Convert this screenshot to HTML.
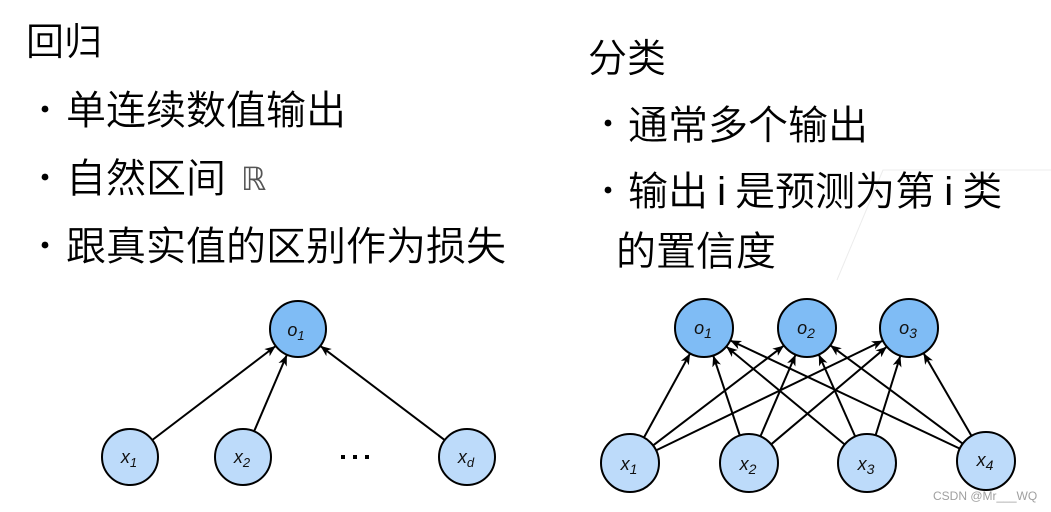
<!DOCTYPE html>
<html><head><meta charset="utf-8"><style>
html,body{margin:0;padding:0;background:#fff;}
body{width:1051px;height:512px;overflow:hidden;}
svg{display:block;}
.cjk{font-family:"Liberation Sans","Noto Sans CJK SC",sans-serif;fill:#000;font-weight:350;}
.lbl{font-family:"Liberation Sans",sans-serif;font-style:italic;font-size:18px;fill:#111;}
</style></head><body>
<svg width="1051" height="512" viewBox="0 0 1051 512" xmlns="http://www.w3.org/2000/svg">
<defs>
<marker id="ah" markerUnits="userSpaceOnUse" markerWidth="12" markerHeight="10" refX="11" refY="4.5" orient="auto">
<path d="M0,0 L11,4.5 L0,9 L3,4.5 z" fill="#000"/>
</marker>
</defs>
<polyline points="837,280 883,170 1051,170" fill="none" stroke="#ececec" stroke-width="1"/>

<!-- Left text -->
<text class="cjk" x="26" y="55" font-size="38">回归</text>
<circle cx="45" cy="109" r="3.4" fill="#000"/>
<text class="cjk" x="66" y="124" font-size="40">单连续数值输出</text>
<circle cx="45" cy="177" r="3.4" fill="#000"/>
<text class="cjk" x="66" y="192" font-size="40">自然区间</text>
<text x="241" y="190" font-family="DejaVu Sans,sans-serif" font-size="32" fill="#555">ℝ</text>
<circle cx="45" cy="245" r="3.4" fill="#000"/>
<text class="cjk" x="66" y="260" font-size="40">跟真实值的区别作为损失</text>

<!-- Right text -->
<text class="cjk" x="588" y="72" font-size="39">分类</text>
<circle cx="608" cy="123" r="3.4" fill="#000"/>
<text class="cjk" x="628" y="139" font-size="40">通常多个输出</text>
<circle cx="608" cy="190" r="3.4" fill="#000"/>
<text class="cjk" x="628" y="205" font-size="40" word-spacing="-2" xml:space="preserve">输出 i 是预测为第 i 类</text>
<text class="cjk" x="616" y="265" font-size="40">的置信度</text>

<!-- Left diagram edges -->
<g stroke="#000" stroke-width="2" fill="none" marker-end="url(#ah)">
<line x1="152.3" y1="440" x2="275.7" y2="346"/>
<line x1="254.1" y1="431.3" x2="286.9" y2="354.7"/>
<line x1="444.7" y1="440.1" x2="320.3" y2="345.9"/>
</g>
<g stroke="#000" stroke-width="2">
<circle cx="298" cy="329" r="28" fill="#7FBCF5"/>
<circle cx="130" cy="457" r="28" fill="#BDDBFA"/>
<circle cx="243" cy="457" r="28" fill="#BDDBFA"/>
<circle cx="467" cy="457" r="28" fill="#BDDBFA"/>
</g>
<rect x="341" y="455" width="4" height="4" fill="#000"/>
<rect x="353" y="455" width="4" height="4" fill="#000"/>
<rect x="365" y="455" width="4" height="4" fill="#000"/>
<text class="lbl" x="296" y="336" text-anchor="middle">o<tspan font-size="13" dy="4">1</tspan></text>
<text class="lbl" x="129" y="463" text-anchor="middle">x<tspan font-size="13" dy="4">1</tspan></text>
<text class="lbl" x="242" y="463" text-anchor="middle">x<tspan font-size="13" dy="4">2</tspan></text>
<text class="lbl" x="466" y="463" text-anchor="middle">x<tspan font-size="13" dy="4">d</tspan></text>

<!-- Right diagram edges -->
<g stroke="#000" stroke-width="2" fill="none" marker-end="url(#ah)">
<line x1="643.9" y1="437.6" x2="690.1" y2="353.4"/>
<line x1="653.1" y1="445.4" x2="783.9" y2="345.6"/>
<line x1="656.1" y1="450.4" x2="882.9" y2="340.6"/>
<line x1="739.8" y1="435.5" x2="713.2" y2="355.5"/>
<line x1="760.4" y1="436.4" x2="795.6" y2="354.6"/>
<line x1="771.2" y1="444.3" x2="886.8" y2="346.7"/>
<line x1="844.7" y1="444.5" x2="726.3" y2="346.5"/>
<line x1="855.2" y1="436.5" x2="818.8" y2="354.5"/>
<line x1="875.6" y1="435.3" x2="900.4" y2="355.7"/>
<line x1="959.8" y1="448.6" x2="730.2" y2="340.4"/>
<line x1="962.7" y1="443.7" x2="830.3" y2="345.3"/>
<line x1="971.5" y1="435.9" x2="923.5" y2="353.1"/>
</g>
<g stroke="#000" stroke-width="2">
<circle cx="704" cy="328" r="29" fill="#7FBCF5"/>
<circle cx="807" cy="328" r="29" fill="#7FBCF5"/>
<circle cx="909" cy="328" r="29" fill="#7FBCF5"/>
<circle cx="630" cy="463" r="29" fill="#BDDBFA"/>
<circle cx="749" cy="463" r="29" fill="#BDDBFA"/>
<circle cx="867" cy="463" r="29" fill="#BDDBFA"/>
<circle cx="986" cy="461" r="29" fill="#BDDBFA"/>
</g>
<text class="lbl" x="703" y="334" text-anchor="middle" font-size="19">o<tspan font-size="14" dy="4">1</tspan></text>
<text class="lbl" x="806" y="334" text-anchor="middle" font-size="19">o<tspan font-size="14" dy="4">2</tspan></text>
<text class="lbl" x="908" y="334" text-anchor="middle" font-size="19">o<tspan font-size="14" dy="4">3</tspan></text>
<text class="lbl" x="629" y="470" text-anchor="middle" font-size="19">x<tspan font-size="14" dy="4">1</tspan></text>
<text class="lbl" x="748" y="470" text-anchor="middle" font-size="19">x<tspan font-size="14" dy="4">2</tspan></text>
<text class="lbl" x="866" y="470" text-anchor="middle" font-size="19">x<tspan font-size="14" dy="4">3</tspan></text>
<text class="lbl" x="985" y="466" text-anchor="middle" font-size="19">x<tspan font-size="14" dy="4">4</tspan></text>

<text x="933" y="500" font-family="Liberation Sans,sans-serif" font-size="12" fill="#a0a0a0">CSDN @Mr___WQ</text>
</svg>
</body></html>
